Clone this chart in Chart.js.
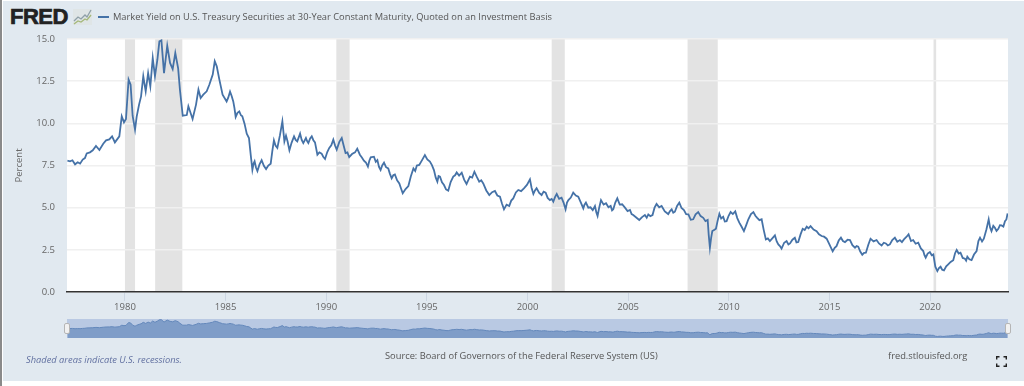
<!DOCTYPE html>
<html>
<head>
<meta charset="utf-8">
<title>30-Year Treasury Yield</title>
<script src="https://cdn.jsdelivr.net/npm/chart.js@4"></script>
<style>
  html, body { margin: 0; padding: 0; background: #fff; }
  #page { position: relative; width: 1024px; height: 386px; overflow: hidden; font-family: "Open Sans", sans-serif; filter: blur(0.4px); }
  #panel { position: absolute; left: 3px; top: 1px; right: 0; height: 380px; background: #e1e9f0; }
  #edge { position: absolute; left: 0; top: 0; width: 2px; height: 386px; background: #8a8a8a; }
  #main { position: absolute; left: 0; top: 0; }
  #nav { position: absolute; left: 67px; top: 319px; background: #b9c9e3; }
  .txt { position: absolute; white-space: nowrap; font-size: 9.3px; line-height: 12px; color: #555; }
  #logo { position: absolute; left: 10px; top: 3px; font: 900 22px/28px "Liberation Sans", sans-serif; letter-spacing: -0.5px; color: #222; -webkit-text-stroke: 0.7px #222; }
  #icon { position: absolute; left: 73px; top: 9px; }
  #swatch { position: absolute; left: 98px; top: 16px; width: 11px; height: 2px; background: #4572a7; }
  .handle { position: absolute; top: 323px; width: 6px; height: 11px; background: #f1f1f1; border: 1px solid #b5b5b5; border-radius: 2px; box-sizing: border-box; }
  #full { position: absolute; left: 996px; top: 356px; }
</style>
</head>
<body>
<div id="page">
  <div id="panel"></div>
  <div id="edge"></div>
  <div id="logo">FRED</div>
  <svg id="icon" width="19" height="16" viewBox="0 0 19 16">
    <rect x="0" y="0" width="19" height="16" fill="#dfe5e6"/>
    <polyline points="1,12 5,8 8,10 12,6 14,8 18,1" fill="none" stroke="#8fa0a8" stroke-width="1.3"/>
    <polyline points="1,15 5,12 8,13 12,10 14,11 18,6" fill="none" stroke="#a5b87a" stroke-width="1.3"/>
  </svg>
  <div id="swatch"></div>
  <div id="legend" class="txt" style="left:113px;top:11px"></div>
  <canvas id="main" width="1024" height="386"></canvas>
  <canvas id="nav" width="941" height="19"></canvas>
  <div class="handle" style="left:64px"></div>
  <div class="handle" style="left:1005px"></div>
  <div class="txt" style="left:26px;top:354px;font-style:italic;color:#6170a0">Shaded areas indicate U.S. recessions.</div>
  <div class="txt" style="left:385px;top:350px">Source: Board of Governors of the Federal Reserve System (US)</div>
  <div class="txt" style="left:888px;top:350px">fred.stlouisfed.org</div>
  <svg id="full" width="11" height="11" viewBox="0 0 11 11" fill="none" stroke="#222" stroke-width="1.4">
    <path d="M0.7 3.5V0.7H3.5M7.5 0.7H10.3V3.5M10.3 7.5V10.3H7.5M3.5 10.3H0.7V7.5"/>
  </svg>
</div>

<script>
const seriesTitle = 'Market Yield on U.S. Treasury Securities at 30-Year Constant Maturity, Quoted on an Investment Basis';

const years = [
  1977.14,1977.27,1977.39,1977.52,1977.65,1977.77,1977.90,1978.01,1978.10,1978.26,1978.40,1978.56,1978.73,1978.92,
  1979.06,1979.22,1979.36,1979.50,1979.72,1979.84,1979.95,1980.05,1980.18,1980.28,1980.38,1980.50,1980.58,1980.70,
  1980.80,1980.91,1981.03,1981.15,1981.26,1981.38,1981.49,1981.61,1981.71,1981.81,1981.94,1982.10,1982.24,1982.37,
  1982.50,1982.64,1982.73,1982.87,1983.07,1983.15,1983.36,1983.53,1983.65,1983.76,1983.89,1984.06,1984.19,1984.36,
  1984.46,1984.56,1984.69,1984.85,
  1985.05,1985.13,1985.22,1985.30,1985.38,1985.44,1985.50,1985.59,1985.68,1985.76,1985.83,1985.94,
  1986.05,1986.16,1986.25,1986.33,1986.39,1986.44,1986.51,1986.58,1986.68,1986.79,1986.90,
  1987.01,1987.12,1987.24,1987.32,1987.40,1987.48,1987.57,1987.70,1987.82,1987.92,
  1988.00,1988.08,1988.17,1988.28,1988.40,1988.48,1988.56,1988.70,1988.78,1988.86,1988.99,
  1989.05,1989.11,1989.20,1989.28,1989.36,1989.44,1989.56,1989.66,1989.77,1989.85,1989.94,
  1990.05,1990.15,1990.25,1990.35,1990.44,1990.52,1990.65,1990.77,1990.87,1990.96,
  1991.05,1991.14,1991.28,1991.43,1991.54,1991.67,1991.77,1991.87,1991.97,
  1992.07,1992.14,1992.21,1992.37,1992.46,1992.54,1992.62,1992.70,1992.78,1992.87,1992.97,
  1993.08,1993.16,1993.25,1993.33,1993.41,1993.52,1993.63,1993.72,1993.80,1993.94,
  1994.08,1994.20,1994.33,1994.42,1994.50,1994.62,1994.76,1994.90,
  1995.02,1995.15,1995.25,1995.35,1995.44,1995.52,1995.58,1995.65,1995.75,1995.85,1995.95,
  1996.06,1996.18,1996.31,1996.40,1996.48,1996.60,1996.73,1996.85,1996.97,
  1997.05,1997.14,1997.25,1997.36,1997.48,1997.60,1997.70,1997.80,1997.95,
  1998.10,1998.24,1998.38,1998.50,1998.63,1998.73,1998.83,1998.96,
  1999.09,1999.19,1999.29,1999.42,1999.54,1999.68,1999.82,1999.97,
  2000.12,2000.20,2000.29,2000.37,2000.45,2000.58,2000.70,2000.80,2000.90,
  2001.00,2001.11,2001.20,2001.28,2001.37,2001.45,2001.57,2001.69,2001.79,2001.89,2001.96,
  2002.03,2002.15,2002.27,2002.40,2002.52,2002.65,2002.77,2002.83,2002.90,
  2003.02,2003.13,2003.24,2003.35,2003.42,2003.48,2003.56,2003.65,2003.78,2003.90,
  2004.02,2004.13,2004.20,2004.26,2004.36,2004.46,2004.58,2004.70,2004.84,2004.97,
  2005.09,2005.17,2005.25,2005.40,2005.55,2005.69,2005.83,2005.92,
  2006.00,2006.10,2006.21,2006.31,2006.41,2006.54,2006.66,2006.82,2006.99,
  2007.08,2007.16,2007.24,2007.32,2007.43,2007.54,2007.65,2007.77,2007.88,2007.99,
  2008.11,2008.23,2008.35,2008.48,2008.60,2008.73,2008.84,2008.95,
  2009.00,2009.06,2009.12,2009.18,2009.27,2009.36,2009.44,2009.53,2009.62,2009.72,2009.80,2009.89,2009.99,
  2010.09,2010.20,2010.32,2010.42,2010.52,2010.63,2010.75,2010.86,2010.97,
  2011.10,2011.22,2011.32,2011.41,2011.52,2011.63,2011.73,2011.84,2011.94,
  2012.04,2012.16,2012.29,2012.38,2012.46,2012.54,2012.62,2012.75,2012.87,2012.96,
  2013.04,2013.16,2013.28,2013.36,2013.45,2013.56,2013.67,2013.77,2013.87,2013.96,
  2014.06,2014.21,2014.36,2014.48,2014.61,2014.73,2014.86,
  2015.01,2015.16,2015.26,2015.35,2015.46,2015.57,2015.67,2015.77,2015.90,
  2016.02,2016.14,2016.27,2016.35,2016.43,2016.53,2016.63,2016.72,2016.81,2016.93,
  2017.04,2017.19,2017.34,2017.46,2017.59,2017.70,2017.80,2017.90,
  2018.00,2018.12,2018.25,2018.37,2018.50,2018.60,2018.70,2018.82,2018.93,
  2019.05,2019.16,2019.28,2019.41,2019.54,2019.66,2019.72,2019.78,2019.88,2019.99,
  2020.08,2020.16,2020.26,2020.36,2020.44,2020.52,2020.60,2020.69,2020.80,2020.90,
  2021.02,2021.15,2021.24,2021.32,2021.42,2021.51,2021.62,2021.73,2021.79,2021.85,2021.95,
  2022.06,2022.18,2022.31,2022.40,2022.48,2022.58,2022.67,2022.80,2022.91,2022.98,
  2023.05,2023.14,2023.22,2023.30,2023.39,2023.47,2023.55,2023.64,2023.72,2023.79,2023.85
];

const yields = [
  7.79,7.75,7.81,7.57,7.69,7.61,7.85,7.94,8.22,8.28,8.40,8.66,8.42,8.79,
  8.99,9.05,9.23,8.87,9.23,10.42,10.06,10.26,12.59,12.29,10.45,9.62,10.38,11.11,
  11.60,12.79,11.90,12.98,12.19,13.87,12.79,13.77,14.86,14.92,12.98,14.60,13.58,13.22,
  14.17,13.28,12.00,10.45,10.49,11.01,10.26,11.11,12.00,11.50,11.70,11.90,12.29,12.89,
  13.68,13.38,12.59,11.70,
  11.30,11.52,11.88,11.62,11.30,10.90,10.38,10.62,10.71,10.48,10.42,9.98,
  9.39,9.13,8.10,7.25,7.62,7.75,7.38,7.17,7.55,7.81,7.48,
  7.29,7.50,7.61,8.35,8.99,8.68,8.54,9.30,10.12,8.93,
  9.27,8.92,8.40,8.86,9.23,9.02,8.93,9.39,9.02,8.83,9.13,
  8.94,8.83,9.10,9.23,9.00,8.87,8.14,8.28,8.20,8.02,7.89,
  8.30,8.54,8.70,9.03,8.68,8.44,8.90,9.13,8.66,8.24,
  8.28,8.00,8.18,8.28,8.50,8.14,7.98,7.79,7.68,
  7.43,7.78,7.98,8.02,7.72,7.82,7.42,7.23,7.50,7.67,7.40,
  7.33,7.02,6.74,6.92,6.97,6.62,6.44,6.12,5.85,6.10,
  6.28,6.85,7.33,7.18,7.50,7.53,7.82,8.12,
  7.86,7.73,7.52,7.23,6.78,6.54,6.88,6.84,6.50,6.34,6.08,
  6.01,6.52,6.84,6.92,7.09,6.90,7.07,6.66,6.40,
  6.62,6.84,6.78,7.13,6.82,6.54,6.62,6.44,6.02,
  5.75,5.92,5.99,5.72,5.65,5.25,4.90,5.18,
  5.10,5.42,5.55,5.90,6.05,5.98,6.15,6.35,
  6.68,6.18,5.81,6.02,6.15,5.88,5.75,5.95,5.89,
  5.58,5.45,5.52,5.36,5.64,5.81,5.52,5.59,5.30,4.90,5.30,
  5.45,5.60,5.89,5.72,5.65,5.30,4.96,5.18,5.30,
  5.00,5.02,4.85,5.10,4.72,4.51,5.00,5.45,5.18,5.26,
  5.02,5.10,4.84,4.90,5.30,5.55,5.18,5.20,5.00,4.80,
  4.86,4.62,4.56,4.42,4.27,4.44,4.56,4.40,
  4.60,4.50,4.56,5.00,5.22,5.02,5.10,4.78,4.62,
  4.80,4.90,4.70,4.76,5.10,5.30,4.98,4.86,4.62,4.60,
  4.28,4.31,4.60,4.74,4.50,4.40,4.20,4.27,
  3.40,2.63,3.20,3.61,3.68,3.75,4.20,4.64,4.36,4.46,4.18,4.20,4.52,
  4.74,4.62,4.78,4.38,4.11,3.88,3.61,3.95,4.31,
  4.62,4.74,4.52,4.40,4.26,4.31,3.70,3.12,3.18,
  3.02,3.18,3.36,3.00,2.82,2.72,2.57,2.92,3.02,2.82,
  2.88,3.10,3.22,2.94,2.96,3.40,3.75,3.68,3.87,3.78,
  3.91,3.70,3.61,3.42,3.32,3.28,3.16,
  2.80,2.41,2.62,2.72,3.05,3.22,3.02,2.96,3.10,
  3.08,2.78,2.63,2.72,2.69,2.40,2.21,2.32,2.33,2.80,
  3.16,3.00,3.08,2.88,2.76,2.92,2.88,2.76,
  2.82,3.08,3.22,2.98,3.08,2.96,3.12,3.26,3.42,
  3.02,3.08,2.86,2.92,2.58,2.43,2.18,2.03,2.28,2.37,
  2.18,2.23,1.50,1.24,1.42,1.50,1.32,1.28,1.52,1.64,
  1.78,1.89,2.30,2.49,2.28,2.33,2.02,1.97,1.86,2.09,1.94,
  1.89,2.22,2.43,3.02,3.22,3.00,3.16,3.72,4.31,3.82,
  3.61,3.92,3.81,3.62,3.75,3.96,3.95,3.88,4.20,4.30,4.66
];

const recessionStart = [1980.0, 1981.5, 1990.5, 2001.2, 2007.95, 2020.17];
const recessionEnd = [1980.5, 1982.85, 1991.16, 2001.85, 2009.45, 2020.3];

const tickYears = [1980, 1985, 1990, 1995, 2000, 2005, 2010, 2015, 2020];
const navTickYears = [1980, 1990, 2000, 2010, 2020];
const xMin = 1977.12;
const xMax = 2023.87;

const points = years.map((y, i) => ({ x: y, y: yields[i] }));

// white plot background and the grey recession bands, behind the grid
const recessionBands = {
  id: 'recessionBands',
  beforeDraw(chart) {
    const { ctx, chartArea: a, scales } = chart;
    ctx.save();
    ctx.fillStyle = '#fff';
    ctx.fillRect(a.left, a.top, a.width, a.height);
    ctx.fillStyle = '#e3e3e3';
    recessionStart.forEach((s, i) => {
      const x0 = scales.x.getPixelForValue(s);
      const x1 = scales.x.getPixelForValue(recessionEnd[i]);
      ctx.fillRect(x0, a.top, x1 - x0, a.height);
    });
    ctx.restore();
  }
};

Chart.defaults.animation = false;
Chart.defaults.font.family = '"Open Sans", sans-serif';

new Chart(document.getElementById('main'), {
  type: 'line',
  data: {
    datasets: [{
      label: seriesTitle,
      data: points,
      borderColor: '#4572a7',
      borderWidth: 1.8,
      pointRadius: 0,
      tension: 0
    }]
  },
  options: {
    responsive: false,
    layout: { padding: { top: 39, right: 16, bottom: 64 } },
    plugins: { legend: { display: false }, tooltip: { enabled: false } },
    scales: {
      x: {
        type: 'linear',
        min: xMin,
        max: xMax,
        afterBuildTicks(scale) { scale.ticks = tickYears.map(v => ({ value: v })); },
        afterFit(scale) { scale.height = 30; },
        grid: { drawOnChartArea: false, color: '#ccd6e2', tickLength: 9 },
        border: { color: '#333', width: 1.5 },
        ticks: { color: '#666', font: { size: 9.5 }, padding: 1, maxRotation: 0, autoSkip: false, callback: v => String(v) }
      },
      y: {
        min: 0,
        max: 15,
        afterFit(scale) { scale.width = 67; },
        grid: { color: '#f0f0f0', lineWidth: 1.5, drawTicks: false },
        border: { display: false },
        title: { display: true, text: 'Percent', color: '#666', font: { size: 9.5 }, padding: { top: 14, bottom: 0 } },
        ticks: { color: '#666', font: { size: 9.5 }, padding: 12, stepSize: 2.5, callback: v => v.toFixed(1) }
      }
    }
  },
  plugins: [recessionBands]
});

// range navigator under the main chart
new Chart(document.getElementById('nav'), {
  type: 'line',
  data: {
    datasets: [{
      data: points,
      borderColor: '#6488bb',
      borderWidth: 1,
      backgroundColor: '#7f9dc8',
      fill: 'origin',
      pointRadius: 0,
      tension: 0
    }]
  },
  options: {
    responsive: false,
    layout: { padding: 0 },
    plugins: { legend: { display: false }, tooltip: { enabled: false } },
    scales: {
      x: {
        type: 'linear',
        min: xMin,
        max: xMax,
        afterBuildTicks(scale) { scale.ticks = navTickYears.map(v => ({ value: v })); },
        afterFit(scale) { scale.height = 0; },
        grid: { display: false },
        border: { display: false },
        ticks: { color: 'rgba(110,125,150,0.7)', font: { size: 9.5 }, padding: -12, labelOffset: 12, maxRotation: 0, autoSkip: false, z: 1, callback: v => String(v) }
      },
      y: { display: false, min: 0, max: 15.5 }
    }
  }
});

document.getElementById('legend').textContent = seriesTitle;
</script>
</body>
</html>
